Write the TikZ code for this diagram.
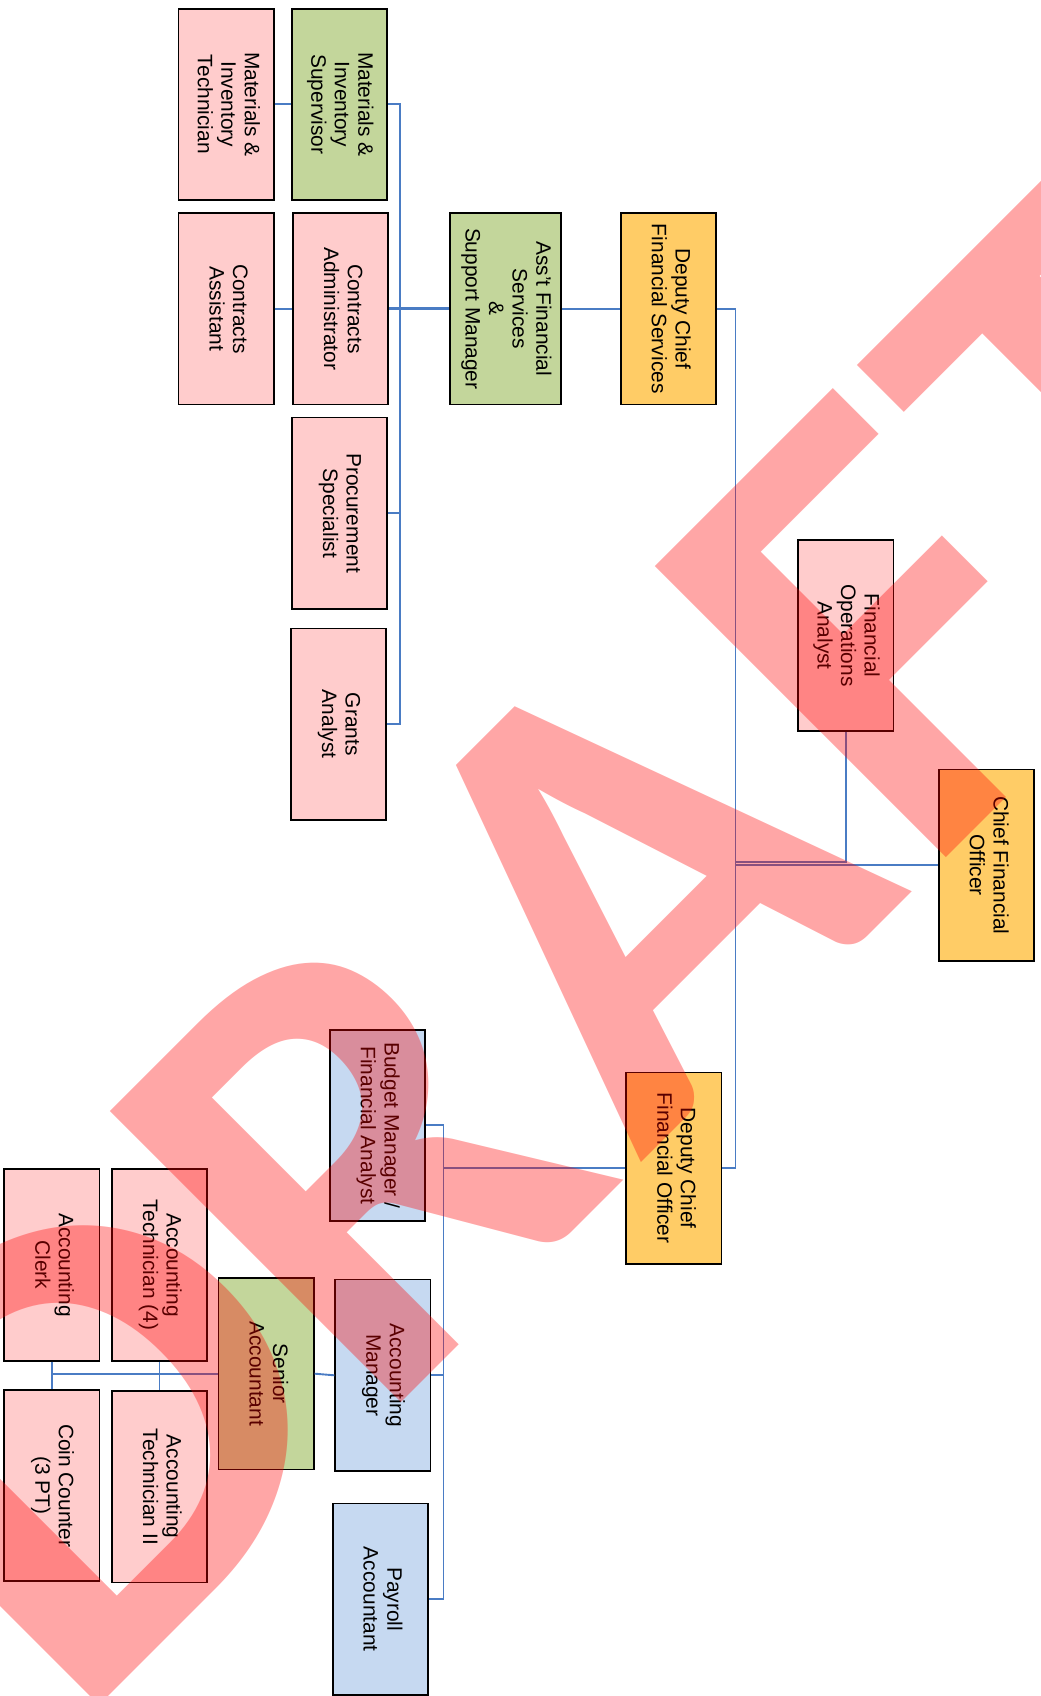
\documentclass[tikz,border=0pt]{standalone}
\usepackage{fontspec}
\setmainfont{Liberation Sans}
\newfontfamily\wmfont{Carlito}
\usepackage{graphicx}
\definecolor{postpink}{HTML}{FFCCCC}
\definecolor{postgreen}{HTML}{C3D69B}
\definecolor{postorange}{HTML}{FFCC66}
\definecolor{postblue}{HTML}{C6D9F1}
\definecolor{linkblue}{HTML}{4A7CC4}
\newcommand{\vlab}[1]{\rotatebox{-90}{\begin{tabular}{@{}c@{}}#1\end{tabular}}}

\begin{document}
\begin{tikzpicture}[
  post/.style={draw, line width=0.95pt, minimum width=1.76cm, minimum height=3.54cm,
    inner sep=0pt, font=\fontsize{11}{12.4}\selectfont},
  pinkpost/.style={post, fill=postpink},
  greenpost/.style={post, fill=postgreen},
  orangepost/.style={post, fill=postorange},
  bluepost/.style={post, fill=postblue},
  link/.style={draw=linkblue, line width=1pt},
  wmark/.style={transform shape, anchor=base west, inner sep=0pt, text=red, opacity=0.35,
    font=\wmfont\bfseries\fontsize{334}{334}\selectfont}
]
\useasboundingbox (0,0) rectangle (19.24,-31.36);

% support services branch
\node[pinkpost] (mitech) at (4.18,-1.93) {\vlab{Materials \&\\Inventory\\Technician}};
\node[greenpost] (misup) at (6.28,-1.93) {\vlab{Materials \&\\Inventory\\Supervisor}};
\node[pinkpost] (cassist) at (4.18,-5.71) {\vlab{Contracts\\Assistant}};
\node[pinkpost] (cadmin) at (6.30,-5.71) {\vlab{Contracts\\Administrator}};
\node[greenpost, minimum width=2.06cm] (asstmgr) at (9.35,-5.71) {\vlab{Ass’t Financial\\Services\\\&\\Support Manager}};
\node[orangepost] (dcfs) at (12.36,-5.71) {\vlab{Deputy Chief\\Financial Services}};
\node[pinkpost] (procure) at (6.28,-9.49) {\vlab{Procurement\\Specialist}};
\node[pinkpost] (grants) at (6.26,-13.39) {\vlab{Grants\\Analyst}};

% top
\node[pinkpost] (foa) at (15.64,-11.75) {\vlab{Financial\\Operations\\Analyst}};
\node[orangepost] (cfo) at (18.24,-16.00) {\vlab{Chief Financial\\Officer}};

% accounting branch
\node[bluepost] (budget) at (6.98,-20.81) {\vlab{Budget Manager /\\Financial Analyst}};
\node[orangepost] (dcfo) at (12.46,-21.60) {\vlab{Deputy Chief\\Financial Officer}};
\node[pinkpost] (actech4) at (2.95,-23.39) {\vlab{Accounting\\Technician (4)}};
\node[pinkpost] (aclerk) at (0.96,-23.39) {\vlab{Accounting\\Clerk}};
\node[greenpost] (senior) at (4.92,-25.40) {\vlab{Senior\\Accountant}};
\node[bluepost] (acmgr) at (7.08,-25.43) {\vlab{Accounting\\Manager}};
\node[pinkpost] (coin) at (0.96,-27.47) {\vlab{Coin Counter\\(3 PT)}};
\node[pinkpost] (actech2) at (2.95,-27.49) {\vlab{Accounting\\Technician II}};
\node[bluepost] (payroll) at (7.03,-29.57) {\vlab{Payroll\\Accountant}};

\coordinate (spA) at (7.40,0);
\coordinate (spB) at (13.60,0);
\coordinate (spC) at (8.20,0);
\coordinate (jn) at (13.60,-15.94);

% connectors
\draw[link] (mitech.east) -- (misup.west);
\draw[link] (cassist.east) -- (cadmin.west);
\draw[link] (misup.east) -- (misup.east -| spA) |- (grants.east);
\draw[link] (procure.east) -- (procure.east -| spA);
\draw[link, line width=1.6pt] (cadmin.east) -- (asstmgr.west);
\draw[link] (asstmgr.east) -- (dcfs.west);
\draw[link] (dcfs.east) -- (dcfs.east -| spB) |- (cfo.west);
\draw[link] (foa.south) |- (jn);
\draw[link] (cfo.west -| spB) |- (dcfo.east);
\draw[link] (dcfo.west) -- (dcfo.west -| spC);
\draw[link] (budget.east) -- (budget.east -| spC) |- (payroll.east);
\draw[link] (acmgr.east) -- (acmgr.east -| spC);
\draw[link] (acmgr.west) -- (senior.east);
\draw[link] (senior.west) -- (senior.west -| aclerk.south);
\draw[link] (actech4.south) -- (actech2.north);
\draw[link] (aclerk.south) -- (coin.north);

% watermark
\begin{scope}
\clip (0,0) rectangle (19.24,-31.36);
\begin{scope}[shift={(16.68,-16.68)}, rotate=45]
\node[wmark, xscale=1.1] (wmD) at (-21.74,0) {D};
\node[wmark] (wmR) at (-13.78,0) {R};
\node[wmark] (wmA) at (-6.84,0) {A};
\node[wmark, xscale=1.04] (wmF) at (0.50,0) {F};
\node[wmark] (wmT) at (6.32,0) {T};
\end{scope}
\end{scope}
\end{tikzpicture}
\end{document}
